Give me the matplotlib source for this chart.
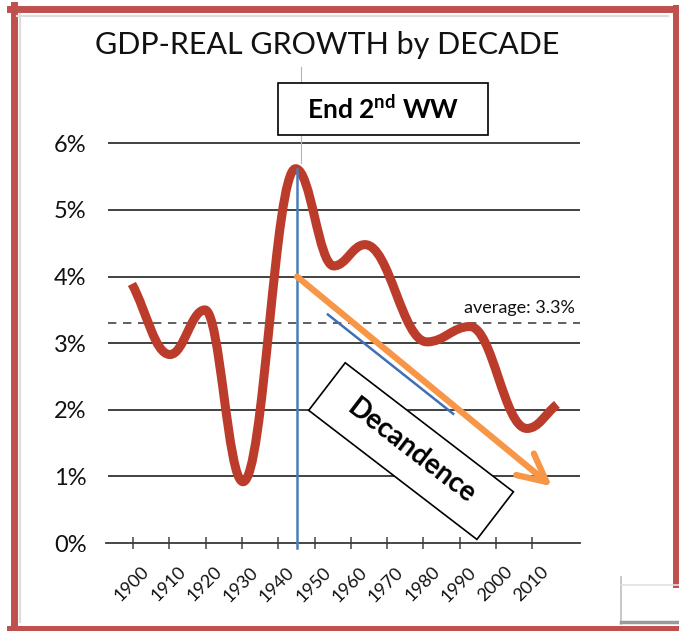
import matplotlib
matplotlib.use('Agg')
import matplotlib.pyplot as plt
from matplotlib.path import Path
from matplotlib.patches import PathPatch, Rectangle
from matplotlib.lines import Line2D
from matplotlib.transforms import Affine2D, ScaledTranslation

plt.rcParams['font.family'] = ['Lato', 'DejaVu Sans']
plt.rcParams['mathtext.fontset'] = 'custom'
plt.rcParams['mathtext.rm'] = 'Lato'
plt.rcParams['mathtext.bf'] = 'Lato:bold'

# data
decades = [1900, 1910, 1920, 1930, 1940, 1950, 1960, 1970, 1980, 1990, 2000, 2010]
pct_ticks = [0, 1, 2, 3, 4, 5, 6]
# turning points of the hand drawn growth curve
curve_years = [1899.7, 1910.2, 1919.8, 1930.3, 1944.8, 1955.3, 1963.9, 1981.0, 1992.8, 2008.5, 2016.8]
curve_pct = [3.89, 2.83, 3.50, 0.92, 5.62, 4.16, 4.48, 3.02, 3.25, 1.72, 2.08]
average = 3.3
ww2_end = 1945.2
trend_start = (1945.2, 4.0)
trend_end = (2015.4, 0.85)
thin_trend_x = [1953.7, 1988.2]
thin_trend_y = [3.43, 1.94]

W, H = 679, 631
fig = plt.figure(figsize=(W / 100, H / 100), dpi=100, facecolor='white')


def fx(x):
    return x / W


def fy(y):
    return 1 - y / H


ax = fig.add_axes([fx(106), fy(543), 474 / W, 443 / H])
ax.set_facecolor('none')
ax.set_xlim(1892.56, 2023.14)
ax.set_ylim(0, 443 / 66.6)

for s in ['left', 'right', 'top']:
    ax.spines[s].set_visible(False)
ax.spines['bottom'].set_color('#383838')
ax.spines['bottom'].set_linewidth(1.3)

# grid lines
ax.hlines(pct_ticks[1:], 1893.2, 2023.1, color='#333333', lw=1.3, zorder=1)
ax.hlines([average], 1893.2, 2023.1, color='#444444', lw=1.2,
          linestyles=(0, (5, 4)), zorder=1)
ax.text(2021.7, 3.53, 'average: %.1f%%' % average, ha='right', va='center',
        fontsize=13, color='#111111')

# axes ticks
ax.set_yticks(pct_ticks)
ax.set_yticklabels(['%d%%' % v for v in pct_ticks])
ax.tick_params(axis='y', length=0, pad=14, labelsize=17, labelcolor='#111111')
ax.set_xticks(decades)
ax.set_xticklabels([str(d) for d in decades], rotation=45, ha='right', va='top',
                   rotation_mode='anchor', fontsize=13, color='#111111')
ax.tick_params(axis='x', direction='inout', length=8, width=1.1, color='#444444', pad=11)
for lab in ax.get_xticklabels():
    lab.set_transform(lab.get_transform() + ScaledTranslation(0.08, 0, fig.dpi_scale_trans))

# smooth growth curve through the turning points
k = 0.4
verts = [(curve_years[0], curve_pct[0])]
codes = [Path.MOVETO]
n = len(curve_years)
for i in range(n - 1):
    x0, y0 = curve_years[i], curve_pct[i]
    x1, y1 = curve_years[i + 1], curve_pct[i + 1]
    dx = x1 - x0
    if i == 0:
        c1 = (x0 + k * dx, y0 + k * (y1 - y0))
    else:
        c1 = (x0 + k * dx, y0)
    if i == n - 2:
        c2 = (x1 - k * dx, y1 - k * (y1 - y0))
    else:
        c2 = (x1 - k * dx, y1)
    verts += [c1, c2, (x1, y1)]
    codes += [Path.CURVE4] * 3
ax.add_patch(PathPatch(Path(verts, codes), fc='none', ec='#BC3C2B', lw=6.5,
                       capstyle='butt', joinstyle='round', zorder=3))

# end of WW2 marker
ax.plot([ww2_end, ww2_end], [-0.08, max(curve_pct)], color='#4A7EBB', lw=1.8,
        clip_on=False, zorder=4)
ax.plot([ww2_end + 1.1, ww2_end + 1.1], [5.7, 7.15], color='#b5b5b5', lw=0.8,
        clip_on=False, zorder=1)

# trend lines
ax.plot(thin_trend_x, thin_trend_y, color='#3F6FB5', lw=1.8, zorder=4)
ax.annotate('', xy=trend_end, xytext=trend_start, annotation_clip=False,
            arrowprops=dict(arrowstyle='->,head_length=2.0,head_width=1.0',
                            color='#F79646', lw=4.5, shrinkA=0, shrinkB=0),
            zorder=5)

# "End 2nd WW" box
ax.add_patch(Rectangle((1939.9, 6.126), 57.9, 0.78, fc='white', ec='black',
                       lw=1.2, clip_on=False, zorder=6))
ax.text(1968.9, 6.517, r'End 2$^{\mathbf{nd}}$ WW', ha='center', va='center',
        fontsize=19, fontweight='bold', zorder=7)

# rotated "Decandence" box
center = (1976.6, 1.38)
cx, cy = ax.transData.transform(center)
rect = Rectangle((-106, -30), 212, 60, fc='white', ec='black', lw=1.2, zorder=6,
                 transform=Affine2D().rotate_deg(-37.5).translate(cx, cy))
fig.add_artist(rect)
fig.text(fx(cx), fy(H - cy), 'Decandence', rotation=-37.5, rotation_mode='anchor',
         ha='center', va='center', fontsize=20, fontweight='bold', zorder=7)

# title
fig.text(fx(327), fy(45), 'GDP-REAL GROWTH by DECADE', ha='center', va='center',
         fontsize=22, color='#111111')

# red frame of the slide
red = '#C0504D'
frame = [([13.5, 13.5], [5, 631], 5.0),
         ([10, 670], [8.5, 8.5], 5.0),
         ([675.5, 675.5], [8, 585], 4.3),
         ([10, 679], [628.5, 628.5], 4.3)]
for xs, ys, lw in frame:
    fig.add_artist(Line2D([fx(v) for v in xs], [fy(v) for v in ys], color=red, lw=lw))
for xs, ys in [([19.5, 19.5], [14, 622]), ([17, 668], [15.5, 15.5])]:
    fig.add_artist(Line2D([fx(v) for v in xs], [fy(v) for v in ys], color='#dddddd', lw=1.6))
fig.add_artist(Line2D([fx(621), fx(621)], [fy(577), fy(624)], color='#bdbdbd', lw=1.2))
fig.add_artist(Line2D([fx(621), fx(679)], [fy(585), fy(585)], color='#e0e0e0', lw=1.2))
fig.add_artist(Line2D([fx(621), fx(679)], [fy(622), fy(622)], color='#9a9a9a', lw=2.5))

fig.savefig('out.png', dpi=100)
